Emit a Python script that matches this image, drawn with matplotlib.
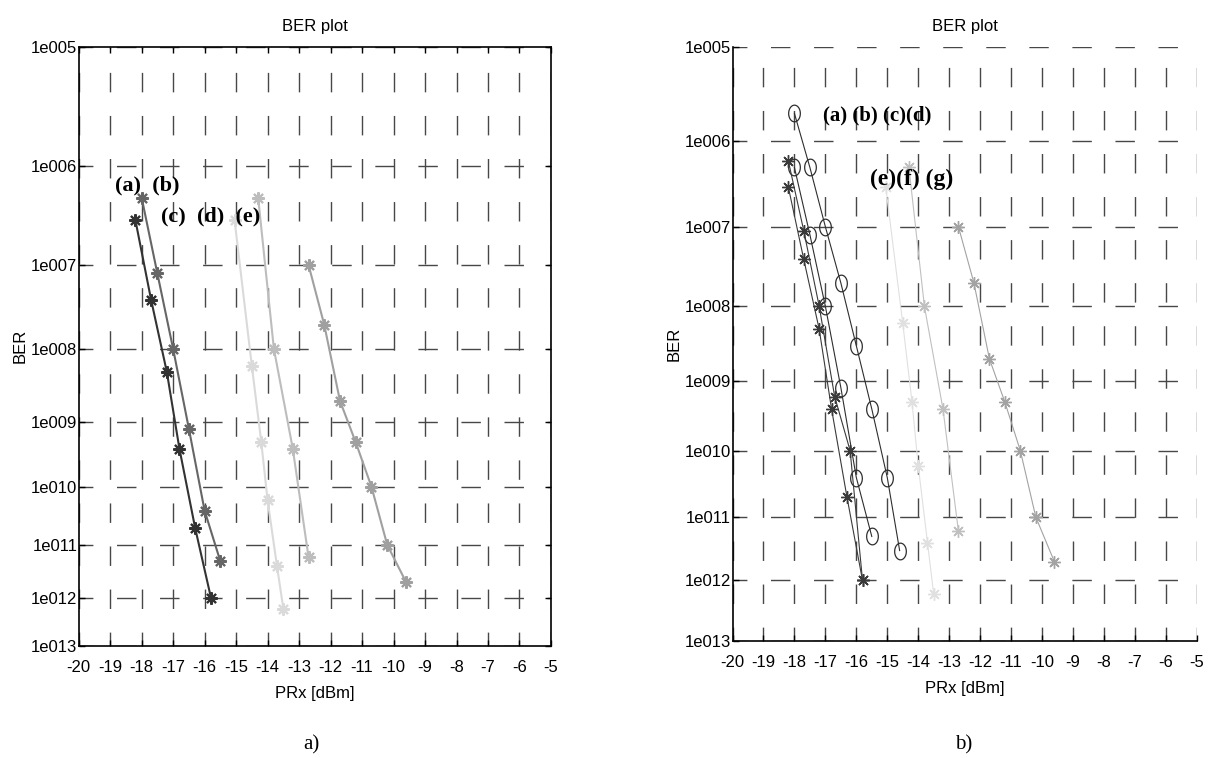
import math
import numpy as np
import matplotlib
matplotlib.use("Agg")
import matplotlib.pyplot as plt
from matplotlib.path import Path

plt.rcParams["font.family"] = ["Liberation Sans Narrow", "Liberation Sans", "DejaVu Sans"]
plt.rcParams["axes.unicode_minus"] = False
plt.rcParams["lines.scale_dashes"] = False

# ---- data ----
prx_ticks = list(range(-20, -4))
ber_ticks = [1e-5, 1e-6, 1e-7, 1e-8, 1e-9, 1e-10, 1e-11, 1e-12, 1e-13]
ber_tick_labels = ["1e%03d" % n for n in range(5, 14)]

# panel a)
prx_a = [-18.2, -17.7, -17.2, -16.8, -16.3, -15.8]
ber_a = [3e-7, 4e-8, 5e-9, 4e-10, 2e-11, 1e-12]
prx_b = [-18.0, -17.5, -17.0, -16.5, -16.0, -15.5]
ber_b = [5e-7, 8e-8, 1e-8, 8e-10, 4e-11, 5e-12]
prx_c = [-15.05, -14.5, -14.2, -14.0, -13.7, -13.5]
ber_c = [3e-7, 6e-9, 5e-10, 6e-11, 4e-12, 6e-13]
prx_d = [-14.3, -13.8, -13.2, -12.7]
ber_d = [5e-7, 1e-8, 4e-10, 6e-12]
prx_e = [-12.7, -12.2, -11.7, -11.2, -10.7, -10.2, -9.6]
ber_e = [1e-7, 2e-8, 2e-9, 5e-10, 1e-10, 1e-11, 2e-12]

# panel b) - extra curves
prx_circ1 = [-18.0, -17.5, -17.0, -16.5, -16.0, -15.5, -15.0, -14.6]
ber_circ1 = [2e-6, 5e-7, 1e-7, 2e-8, 3e-9, 4e-10, 4e-11, 3e-12]
prx_star2 = [-18.2, -17.7, -17.2, -16.7, -16.2, -15.8]
ber_star2 = [6e-7, 9e-8, 1e-8, 6e-10, 1e-10, 1e-12]

# ---- Q-factor scales (BER axis drawn on Q, log(Q) in panel a) ----
q_grid = np.linspace(2.0, 9.0, 4000)
lber_grid = np.log10([0.5 * math.erfc(q / math.sqrt(2)) for q in q_grid])


def ber_to_q(ber):
    lb = np.log10(np.clip(np.asarray(ber, dtype=float), 1e-300, None))
    return np.interp(-lb, -lber_grid, q_grid)


def q_to_ber(q):
    return 10 ** np.interp(q, q_grid, lber_grid)


def fwd_logq(ber):
    return -np.log10(ber_to_q(ber))


def inv_logq(v):
    return q_to_ber(10 ** (-np.asarray(v, dtype=float)))


def fwd_q(ber):
    return -ber_to_q(ber)


def inv_q(v):
    return q_to_ber(-np.asarray(v, dtype=float))


ellipse = [(0.7 * math.cos(t), math.sin(t)) for t in np.linspace(0, 2 * math.pi, 40)]
ellipse_marker = Path(ellipse, closed=True)
star = (8, 2, 0)


def style_axes(ax, funcs, box):
    ax.set_yscale("function", functions=funcs)
    ax.set_xlim(-20, -5)
    ax.set_ylim(1e-13, 1e-5)
    ax.set_xticks(prx_ticks)
    ax.set_xticklabels([str(t) for t in prx_ticks])
    ax.set_yticks(ber_ticks)
    ax.set_yticklabels(ber_tick_labels)
    ax.minorticks_off()
    ax.grid(True, color="#474747", lw=1.0, linestyle=(4, (14, 17)))
    ax.tick_params(direction="in", length=4, width=1, labelsize=12,
                   top=box, right=box)
    ax.tick_params(axis="x", pad=10)
    ax.tick_params(axis="y", pad=1)
    for side in ["left", "bottom"]:
        ax.spines[side].set_linewidth(1.2)
    for side in ["top", "right"]:
        ax.spines[side].set_visible(box)
        ax.spines[side].set_linewidth(1.2)
    ax.set_title("BER plot", fontsize=12, pad=11)
    ax.set_xlabel("PRx [dBm]", fontsize=12, labelpad=8)
    ax.set_ylabel("BER", fontsize=12, labelpad=2)


fig = plt.figure(figsize=(12.12, 7.58), dpi=100)

# ---------- a) ----------
ax1 = fig.add_axes([0.0649, 0.1482, 0.3897, 0.7902])
style_axes(ax1, (fwd_logq, inv_logq), True)
kw1 = dict(marker=star, markersize=9, markeredgewidth=1.5, lw=1.5)
ax1.plot(prx_a, ber_a, color="#333333", **kw1)
ax1.plot(prx_b, ber_b, color="#666666", **kw1)
ax1.plot(prx_c, ber_c, color="#dadada", **kw1)
ax1.plot(prx_d, ber_d, color="#bdbdbd", **kw1)
ax1.plot(prx_e, ber_e, color="#a0a0a0", **kw1)
tfont = dict(family=["Liberation Serif", "DejaVu Serif"], fontweight="bold", fontsize=16)
ax1.text(0.077, 0.769, "(a)  (b)", transform=ax1.transAxes, ha="left", va="center", **tfont)
ax1.text(0.174, 0.716, "(c)  (d)  (e)", transform=ax1.transAxes, ha="left", va="center", **tfont)

# ---------- b) ----------
ax2 = fig.add_axes([0.6044, 0.1544, 0.3830, 0.7840])
style_axes(ax2, (fwd_q, inv_q), False)
kw_s = dict(marker=star, markersize=9, markeredgewidth=1.0, lw=0.8)
kw_o = dict(marker=ellipse_marker, markersize=12, markeredgewidth=0.9,
            markerfacecolor="none", lw=0.8)
ax2.plot(prx_circ1, ber_circ1, color="#2e2e2e", **kw_o)
ax2.plot(prx_b, ber_b, color="#2e2e2e", **kw_o)
ax2.plot(prx_star2, ber_star2, color="#3a3a3a", **kw_s)
ax2.plot(prx_a, ber_a, color="#3a3a3a", **kw_s)
ax2.plot(prx_c, ber_c, color="#e0e0e0", **kw_s)
ax2.plot(prx_d, ber_d, color="#c0c0c0", **kw_s)
ax2.plot(prx_e, ber_e, color="#a3a3a3", **kw_s)
ax2.text(0.195, 0.885, "(a) (b) (c)(d)", transform=ax2.transAxes, ha="left", va="center",
         **dict(tfont, fontsize=15))
ax2.text(0.296, 0.776, "(e)(f) (g)", transform=ax2.transAxes, ha="left", va="center",
         **dict(tfont, fontsize=17))

# sub captions
cap = dict(family=["Liberation Serif", "DejaVu Serif"], fontsize=15, ha="center", va="center")
fig.text(311 / 1212, 1 - 745 / 758, "a)", **cap)
fig.text(964 / 1212, 1 - 745 / 758, "b)", **cap)

fig.savefig("out.png", dpi=100)
